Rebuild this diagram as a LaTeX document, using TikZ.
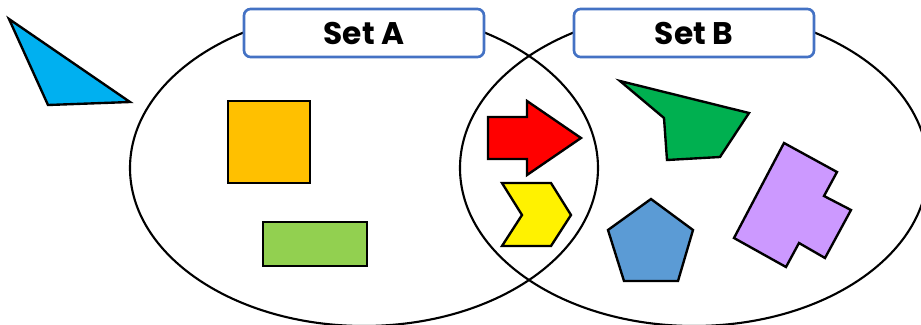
\documentclass[tikz,border=0pt]{standalone}
\usepackage{fontspec}
\newfontfamily\labelfont{Poppins}
\definecolor{boxblue}{HTML}{4472C4}
\definecolor{skyblue}{HTML}{00B0F0}
\definecolor{orangefill}{HTML}{FFC000}
\definecolor{limefill}{HTML}{92D050}
\definecolor{greenfill}{HTML}{00B050}
\definecolor{pentafill}{HTML}{5B9BD5}
\definecolor{lilacfill}{HTML}{CC99FF}
\tikzset{
  labelbox/.style={draw=boxblue, line width=1.5pt, fill=white, rounded corners=0.13cm,
    minimum width=4.8cm, minimum height=0.96cm, inner sep=0pt,
    font=\labelfont\bfseries\fontsize{17.8}{20}\selectfont},
  piece/.style={draw=black, line width=1.35pt, line join=miter}
}
\newcommand{\setlabel}[3]{
  \node [labelbox] (#1) at (#2,33) {#3};
}
\newcommand{\piecefill}[2]{
  \draw [piece, fill=#1] #2 -- cycle;
}

\begin{document}
\begin{tikzpicture}[x=0.02cm, y=-0.02cm]
\useasboundingbox (0,0) rectangle (921,325);
% the two sets
\draw [line width=1.2pt] (364,168) ellipse [x radius=234, y radius=158];
\draw [line width=1.2pt] (694,168) ellipse [x radius=234, y radius=158];
\setlabel{labelA}{364}{Set A}
\setlabel{labelB}{694}{Set B}
% outside both
\piecefill{skyblue}{(9,19) -- (130,102) -- (48,105)}
% only A
\piecefill{orangefill}{(228,101) -- (310,101) -- (310,183) -- (228,183)}
\piecefill{limefill}{(263,222) -- (367,222) -- (367,266) -- (263,266)}
% A and B
\piecefill{red}{(488,117) -- (527,117) -- (527,101) -- (581,138) -- (527,175) -- (527,159) -- (488,159)}
\piecefill{yellow}{(502,183) -- (551,183) -- (571,215) -- (551,246) -- (502,246) -- (522,215)}
% only B
\piecefill{greenfill}{(620,81) -- (749,113) -- (720,157) -- (667,160) -- (664,118)}
\piecefill{pentafill}{(651,199) -- (693,230) -- (678,281) -- (624,281) -- (608,230)}
\piecefill{lilacfill}{(784,143) -- (837,172) -- (824,196) -- (851,210) -- (825,258) -- (799,243) -- (786,267) -- (734,238)}
\end{tikzpicture}
\end{document}
